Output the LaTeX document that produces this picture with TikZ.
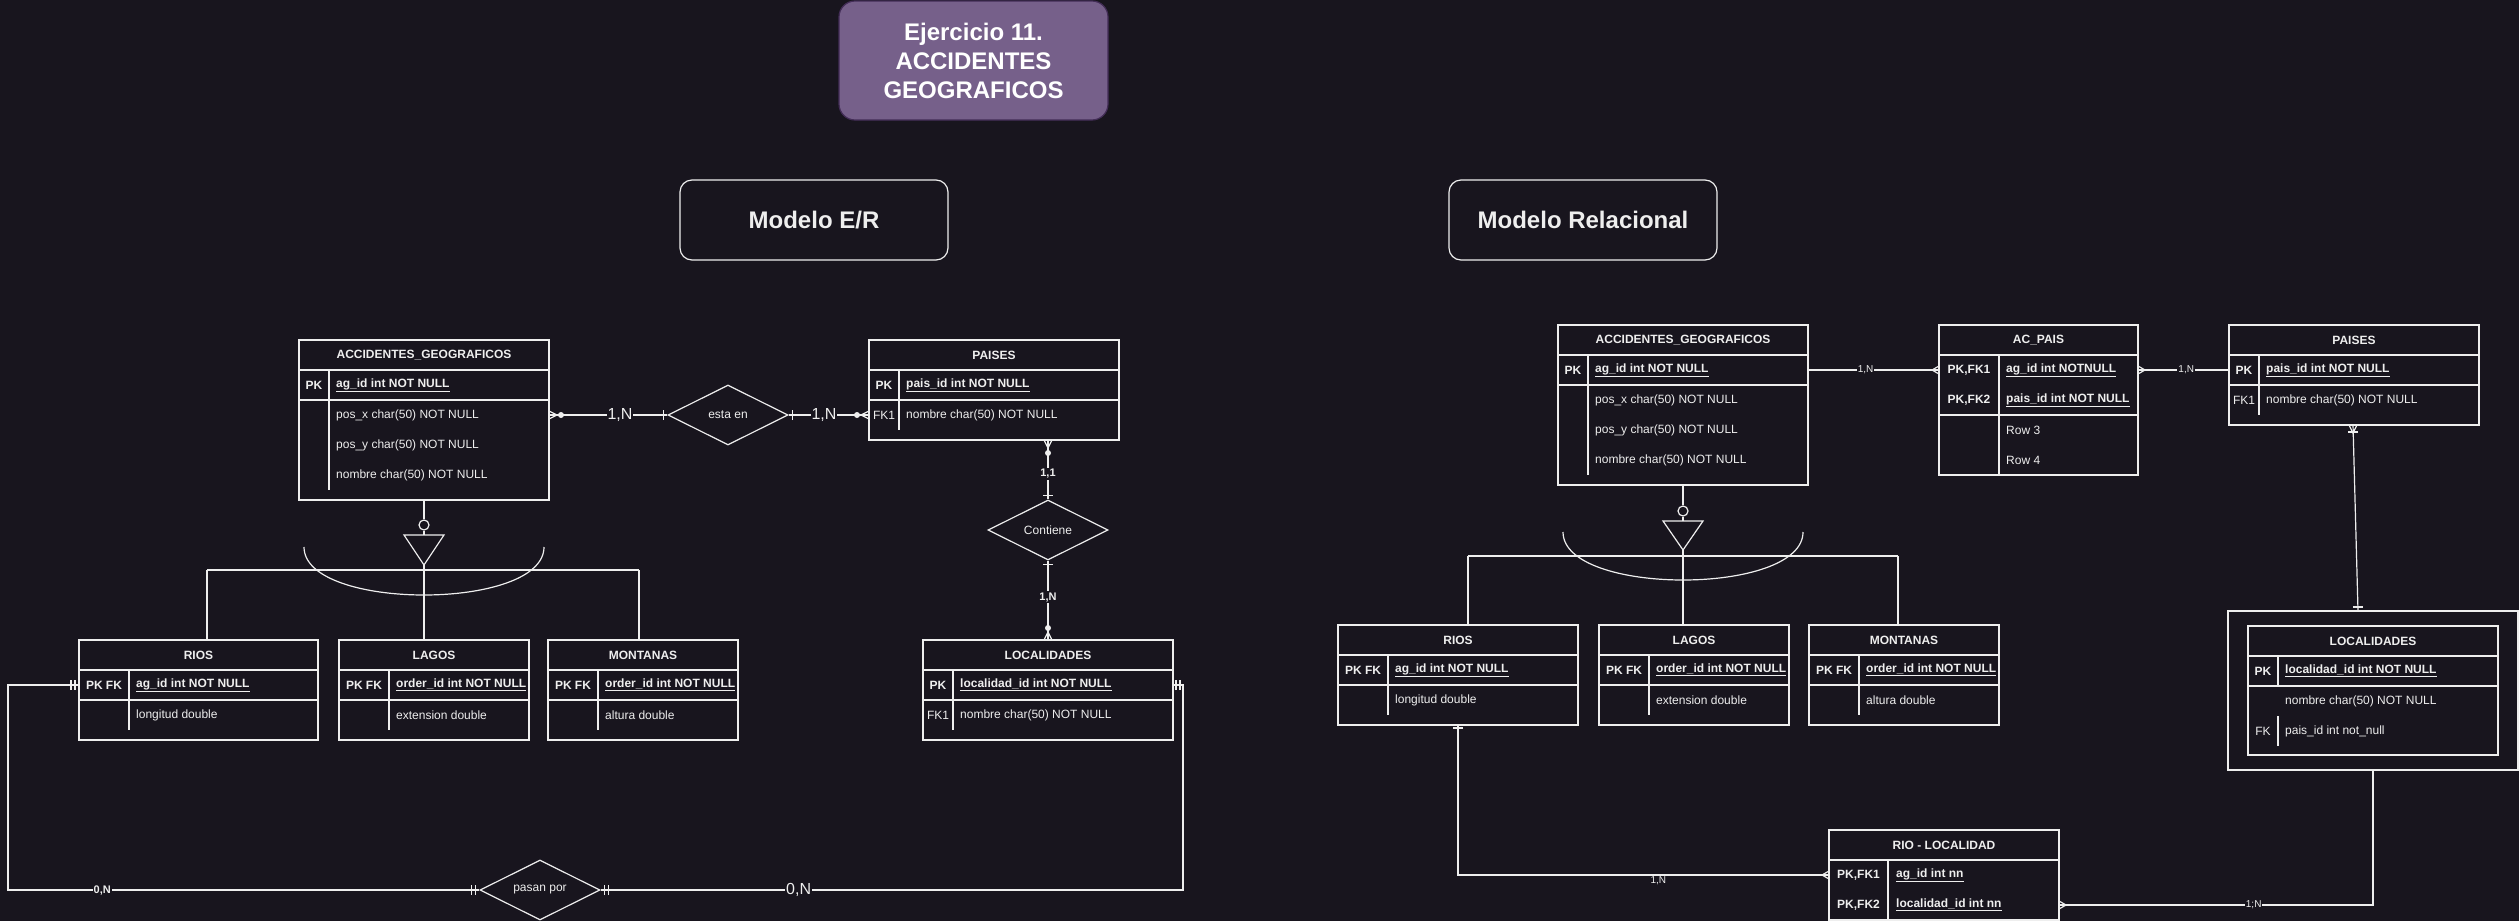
\documentclass[tikz,border=0pt]{standalone}
\usepackage{fontspec}
\setmainfont{Liberation Sans}
\usetikzlibrary{shapes.geometric,calc}
\definecolor{bg}{HTML}{18151E}
\definecolor{fg}{HTML}{EEEEEE}
\definecolor{titlefill}{HTML}{76608A}
\definecolor{titledraw}{HTML}{432D57}
\tikzset{
  ln/.style={draw=fg, line width=1.2pt},
  tbox/.style={draw=fg, line width=1.2pt, rectangle, inner sep=0pt, outer sep=0pt, anchor=north west},
  ttl/.style={text=fg, font=\fontsize{12}{14}\selectfont\bfseries, inner sep=0pt},
  fld/.style={text=fg, font=\fontsize{12}{14}\selectfont, inner sep=0pt, anchor=west},
  keyt/.style={text=fg, font=\fontsize{12}{14}\selectfont, inner sep=0pt},
  relbox/.style={diamond, draw=fg, line width=1.2pt, aspect=2, minimum width=120pt, minimum height=60pt, inner sep=0pt, text=fg, font=\fontsize{12}{14}\selectfont},
  lblbig/.style={fill=bg, text=fg, font=\fontsize{16}{18}\selectfont, inner sep=1pt},
  lblsm/.style={fill=bg, text=fg, font=\fontsize{11}{13}\selectfont\bfseries, inner sep=1pt},
  lblxs/.style={fill=bg, text=fg, font=\fontsize{10}{12}\selectfont, inner sep=1pt},
  modelbox/.style={draw=fg, line width=1.2pt, rounded corners=12pt, text=fg, font=\fontsize{24}{29}\selectfont\bfseries, minimum width=268pt, minimum height=80pt, inner sep=0pt},
  titlebox/.style={draw=titledraw, fill=titlefill, line width=1.2pt, rounded corners=16pt, text=white, font=\fontsize{24}{29}\selectfont\bfseries, align=center, minimum width=269pt, minimum height=119pt, inner sep=0pt}
}
% table: name, x, y, w, h, title
\newcommand{\mytable}[6]{%
  \node[tbox, minimum width=#4pt, minimum height=#5pt] (#1) at (#2,#3) {};
  \node[ttl] (#1-title) at ($(#1.north west)+({#4/2},15)$) {#6};
  \draw[ln] ($(#1.north west)+(0,30)$) -- ($(#1.north east)+(0,30)$);
}
\newcommand{\thl}[2]{\draw[ln] ($(#1.north west)+(0,#2)$) -- ($(#1.north east)+(0,#2)$);}
\newcommand{\tvl}[4]{\draw[ln] ($(#1.north west)+(#2,#3)$) -- ($(#1.north west)+(#2,#4)$);}
\newcommand{\tkey}[5]{\node[keyt] (#1-#2) at ($(#1.north west)+(#3,#4)$) {#5};}
\newcommand{\tfld}[5]{\node[fld] (#1-#2) at ($(#1.north west)+(#3,#4)$) {#5};}
\newcommand{\pkf}[1]{\textbf{\underline{#1}}}
% markers: point, dx, dy, size
\newcommand{\crowm}[4]{\draw[ln] ($#1+({4*(#3)},{4*(#2)})$) -- ($#1+({#4*(#2)},{#4*(#3)})$) -- ($#1+({-4*(#3)},{-4*(#2)})$);}
\newcommand{\tickm}[4]{\draw[ln] ($#1+({#4*(#2)+5*(#3)},{#4*(#3)+5*(#2)})$) -- ($#1+({#4*(#2)-5*(#3)},{#4*(#3)-5*(#2)})$);}
\newcommand{\dotm}[4]{\fill[fg] ($#1+({#4*(#2)},{#4*(#3)})$) circle[radius=3pt];}
\begin{document}
\begin{tikzpicture}[x=1pt,y=-1pt]
\useasboundingbox (0,0) rectangle (2519,921);
\fill[bg] (0,0) rectangle (2519,921);

% titles
\node[titlebox] (title) at (973.5,60.5) {Ejercicio 11.\\ACCIDENTES\\GEOGRAFICOS};
\node[modelbox] (mer) at (814,220) {Modelo E/R};
\node[modelbox] (mrel) at (1583,220) {Modelo Relacional};

% ================= E/R =================
\mytable{ag1}{299}{340}{250}{160}{ACCIDENTES\_GEOGRAFICOS}
\thl{ag1}{60}
\tvl{ag1}{30}{30}{150}
\tkey{ag1}{k1}{15}{45}{\textbf{PK}}
\tfld{ag1}{f1}{37}{45}{\pkf{ag\_id int NOT NULL}}
\tfld{ag1}{f2}{37}{75}{pos\_x char(50) NOT NULL}
\tfld{ag1}{f3}{37}{105}{pos\_y char(50) NOT NULL}
\tfld{ag1}{f4}{37}{135}{nombre char(50) NOT NULL}

\mytable{pa1}{869}{340}{250}{100}{PAISES}
\thl{pa1}{60}
\tvl{pa1}{30}{30}{90}
\tkey{pa1}{k1}{15}{45}{\textbf{PK}}
\tkey{pa1}{k2}{15}{75}{FK1}
\tfld{pa1}{f1}{37}{45}{\pkf{pais\_id int NOT NULL}}
\tfld{pa1}{f2}{37}{75}{nombre char(50) NOT NULL}

\mytable{rios1}{79}{640}{239}{100}{RIOS}
\thl{rios1}{60}
\tvl{rios1}{50}{30}{90}
\tkey{rios1}{k1}{25}{45}{\textbf{PK FK}}
\tfld{rios1}{f1}{57}{45}{\pkf{ag\_id int NOT NULL}}
\tfld{rios1}{f2}{57}{75}{longitud double}

\mytable{lagos1}{339}{640}{190}{100}{LAGOS}
\thl{lagos1}{60}
\tvl{lagos1}{50}{30}{90}
\tkey{lagos1}{k1}{25}{45}{\textbf{PK FK}}
\tfld{lagos1}{f1}{57}{45}{\pkf{order\_id int NOT NULL}}
\tfld{lagos1}{f2}{57}{75}{extension double}

\mytable{mont1}{548}{640}{190}{100}{MONTANAS}
\thl{mont1}{60}
\tvl{mont1}{50}{30}{90}
\tkey{mont1}{k1}{25}{45}{\textbf{PK FK}}
\tfld{mont1}{f1}{57}{45}{\pkf{order\_id int NOT NULL}}
\tfld{mont1}{f2}{57}{75}{altura double}

\mytable{loc1}{923}{640}{250}{100}{LOCALIDADES}
\thl{loc1}{60}
\tvl{loc1}{30}{30}{90}
\tkey{loc1}{k1}{15}{45}{\textbf{PK}}
\tkey{loc1}{k2}{15}{75}{FK1}
\tfld{loc1}{f1}{37}{45}{\pkf{localidad\_id int NOT NULL}}
\tfld{loc1}{f2}{37}{75}{nombre char(50) NOT NULL}

\node[relbox] (estaen) at (728,415) {esta en};
\node[relbox] (contiene) at (1048,530) {Contiene};
\node[relbox] (pasan) at (540,890) {pasan por};

% ISA (E/R)
\node[circle, draw=fg, line width=1.2pt, minimum size=10pt, inner sep=0pt] (isa1c) at ($(ag1.south)+(0,25)$) {};
\draw[ln] (ag1.south) -- (isa1c.north);
\draw[ln] (isa1c.south) -- ($(ag1.south)+(0,35)$);
\draw[ln] ($(ag1.south)+(-20,35)$) -- ($(ag1.south)+(20,35)$) -- ($(ag1.south)+(0,65)$) -- cycle;
\draw[ln] ($(ag1.south)+(-120,47)$) .. controls ($(ag1.south)+(-120,111)$) and ($(ag1.south)+(120,111)$) .. ($(ag1.south)+(120,47)$);
\draw[ln] ($(ag1.south)+(0,65)$) -- (ag1.south |- lagos1.north);
\draw[ln] ($(ag1.south)+(-217,70)$) -- ($(ag1.south)+(215,70)$);
\draw[ln] ($(ag1.south)+(-217,70)$) -- ($(ag1.south)+(-217,140)$);
\draw[ln] ($(ag1.south)+(215,70)$) -- ($(ag1.south)+(215,140)$);

% E/R connectors
\coordinate (e1a) at ($(ag1.north east)+(0,75)$);
\coordinate (e1b) at (estaen.west);
\draw[ln] (e1a) -- (e1b) node[lblbig, pos=0.6] {1,N};
\crowm{(e1a)}{1}{0}{8}
\dotm{(e1a)}{1}{0}{12}
\tickm{(e1b)}{-1}{0}{4}

\coordinate (e2a) at (estaen.east);
\coordinate (e2b) at ($(pa1.north west)+(0,75)$);
\draw[ln] (e2a) -- (e2b) node[lblbig, pos=0.44] {1,N};
\tickm{(e2a)}{1}{0}{4}
\dotm{(e2b)}{-1}{0}{12}
\crowm{(e2b)}{-1}{0}{8}

\coordinate (e3a) at (contiene.north |- pa1.south);
\coordinate (e3b) at (contiene.north);
\draw[ln] (e3a) -- (e3b) node[lblsm, pos=0.57] {1,1};
\crowm{(e3a)}{0}{1}{8}
\dotm{(e3a)}{0}{1}{13}
\tickm{(e3b)}{0}{-1}{4}

\coordinate (e4a) at (contiene.south);
\coordinate (e4b) at (loc1.north);
\draw[ln] (e4a) -- (e4b) node[lblsm, pos=0.46] {1,N};
\tickm{(e4a)}{0}{1}{4}
\dotm{(e4b)}{0}{-1}{12}
\crowm{(e4b)}{0}{-1}{8}

\coordinate (e5a) at ($(rios1.north west)+(0,45)$);
\coordinate (e5b) at (pasan.west);
\draw[ln] (e5a) -- ++(-71,0) |- (e5b) node[lblsm, pos=0.6] {0,N};
\tickm{(e5a)}{-1}{0}{4}
\tickm{(e5a)}{-1}{0}{8}
\tickm{(e5b)}{-1}{0}{4}
\tickm{(e5b)}{-1}{0}{8}

\coordinate (e6a) at ($(loc1.north east)+(0,45)$);
\coordinate (e6b) at (pasan.east);
\draw[ln] (e6a) -- ++(10,0) |- (e6b) node[lblbig, pos=0.83] {0,N};
\tickm{(e6a)}{1}{0}{3}
\tickm{(e6a)}{1}{0}{7}
\tickm{(e6b)}{1}{0}{4}
\tickm{(e6b)}{1}{0}{8}

% ================= Relacional =================
\mytable{ag2}{1558}{325}{250}{160}{ACCIDENTES\_GEOGRAFICOS}
\thl{ag2}{60}
\tvl{ag2}{30}{30}{150}
\tkey{ag2}{k1}{15}{45}{\textbf{PK}}
\tfld{ag2}{f1}{37}{45}{\pkf{ag\_id int NOT NULL}}
\tfld{ag2}{f2}{37}{75}{pos\_x char(50) NOT NULL}
\tfld{ag2}{f3}{37}{105}{pos\_y char(50) NOT NULL}
\tfld{ag2}{f4}{37}{135}{nombre char(50) NOT NULL}

\mytable{acp}{1939}{325}{199}{150}{AC\_PAIS}
\thl{acp}{90}
\tvl{acp}{60}{30}{150}
\tkey{acp}{k1}{30}{45}{\textbf{PK,FK1}}
\tkey{acp}{k2}{30}{75}{\textbf{PK,FK2}}
\tfld{acp}{f1}{67}{45}{\pkf{ag\_id int NOTNULL}}
\tfld{acp}{f2}{67}{75}{\pkf{pais\_id int NOT NULL}}
\tfld{acp}{f3}{67}{105}{Row 3}
\tfld{acp}{f4}{67}{135}{Row 4}

\mytable{pa2}{2229}{325}{250}{100}{PAISES}
\thl{pa2}{60}
\tvl{pa2}{30}{30}{90}
\tkey{pa2}{k1}{15}{45}{\textbf{PK}}
\tkey{pa2}{k2}{15}{75}{FK1}
\tfld{pa2}{f1}{37}{45}{\pkf{pais\_id int NOT NULL}}
\tfld{pa2}{f2}{37}{75}{nombre char(50) NOT NULL}

\mytable{rios2}{1338}{625}{240}{100}{RIOS}
\thl{rios2}{60}
\tvl{rios2}{50}{30}{90}
\tkey{rios2}{k1}{25}{45}{\textbf{PK FK}}
\tfld{rios2}{f1}{57}{45}{\pkf{ag\_id int NOT NULL}}
\tfld{rios2}{f2}{57}{75}{longitud double}

\mytable{lagos2}{1599}{625}{190}{100}{LAGOS}
\thl{lagos2}{60}
\tvl{lagos2}{50}{30}{90}
\tkey{lagos2}{k1}{25}{45}{\textbf{PK FK}}
\tfld{lagos2}{f1}{57}{45}{\pkf{order\_id int NOT NULL}}
\tfld{lagos2}{f2}{57}{75}{extension double}

\mytable{mont2}{1809}{625}{190}{100}{MONTANAS}
\thl{mont2}{60}
\tvl{mont2}{50}{30}{90}
\tkey{mont2}{k1}{25}{45}{\textbf{PK FK}}
\tfld{mont2}{f1}{57}{45}{\pkf{order\_id int NOT NULL}}
\tfld{mont2}{f2}{57}{75}{altura double}

\node[tbox, minimum width=290pt, minimum height=159pt] (loccont) at (2228,611) {};
\mytable{loc2}{2248}{626}{250}{129}{LOCALIDADES}
\thl{loc2}{60}
\tvl{loc2}{30}{30}{60}
\tvl{loc2}{30}{90}{120}
\tkey{loc2}{k1}{15}{45}{\textbf{PK}}
\tkey{loc2}{k2}{15}{105}{FK}
\tfld{loc2}{f1}{37}{45}{\pkf{localidad\_id int NOT NULL}}
\tfld{loc2}{f2}{37}{75}{nombre char(50) NOT NULL}
\tfld{loc2}{f3}{37}{105}{pais\_id int not\_null}

\mytable{rl}{1829}{830}{230}{90}{RIO - LOCALIDAD}
\tvl{rl}{59}{30}{90}
\tkey{rl}{k1}{29.5}{45}{\textbf{PK,FK1}}
\tkey{rl}{k2}{29.5}{75}{\textbf{PK,FK2}}
\tfld{rl}{f1}{67}{45}{\pkf{ag\_id int nn}}
\tfld{rl}{f2}{67}{75}{\pkf{localidad\_id int nn}}

% ISA (Relacional)
\node[circle, draw=fg, line width=1.2pt, minimum size=10pt, inner sep=0pt] (isa2c) at ($(ag2.south)+(0,26)$) {};
\draw[ln] (ag2.south) -- (isa2c.north);
\draw[ln] (isa2c.south) -- ($(ag2.south)+(0,36)$);
\draw[ln] ($(ag2.south)+(-20,36)$) -- ($(ag2.south)+(20,36)$) -- ($(ag2.south)+(0,65)$) -- cycle;
\draw[ln] ($(ag2.south)+(-120,47)$) .. controls ($(ag2.south)+(-120,111)$) and ($(ag2.south)+(120,111)$) .. ($(ag2.south)+(120,47)$);
\draw[ln] ($(ag2.south)+(0,65)$) -- (ag2.south |- lagos2.north);
\draw[ln] ($(ag2.south)+(-215,71)$) -- ($(ag2.south)+(215,71)$);
\draw[ln] ($(ag2.south)+(-215,71)$) -- ($(ag2.south)+(-215,140)$);
\draw[ln] ($(ag2.south)+(215,71)$) -- ($(ag2.south)+(215,140)$);

% Relacional connectors
\coordinate (r1a) at ($(ag2.north east)+(0,45)$);
\coordinate (r1b) at ($(acp.north west)+(0,45)$);
\draw[ln] (r1a) -- (r1b) node[lblxs, pos=0.44] {1,N};
\crowm{(r1b)}{-1}{0}{7}

\coordinate (r2a) at ($(acp.north east)+(0,45)$);
\coordinate (r2b) at ($(pa2.north west)+(0,45)$);
\draw[ln] (r2a) -- (r2b) node[lblxs, pos=0.53] {1,N};
\crowm{(r2a)}{1}{0}{7}

\coordinate (r3a) at ($(pa2.south west)+(124,0)$);
\coordinate (r3b) at ($(loccont.north west)+(130,0)$);
\draw[ln] (r3a) -- (r3b);
\crowm{(r3a)}{0}{1}{8}
\tickm{(r3a)}{0}{1}{7}
\tickm{(r3b)}{0}{-1}{4}

\coordinate (r4a) at ($(loccont.south west)+(145,0)$);
\coordinate (r4b) at ($(rl.north east)+(0,75)$);
\draw[ln] (r4a) |- (r4b) node[lblxs, pos=0.69] {1;N};
\crowm{(r4b)}{1}{0}{7}

\coordinate (r5a) at ($(rios2.south west)+(120,0)$);
\coordinate (r5b) at ($(rl.north west)+(0,45)$);
\draw[ln] (r5a) |- (r5b) node[lblxs, pos=0.77, yshift=-6pt] {1,N};
\tickm{(r5a)}{0}{1}{3}
\crowm{(r5b)}{-1}{0}{7}

\end{tikzpicture}
\end{document}
